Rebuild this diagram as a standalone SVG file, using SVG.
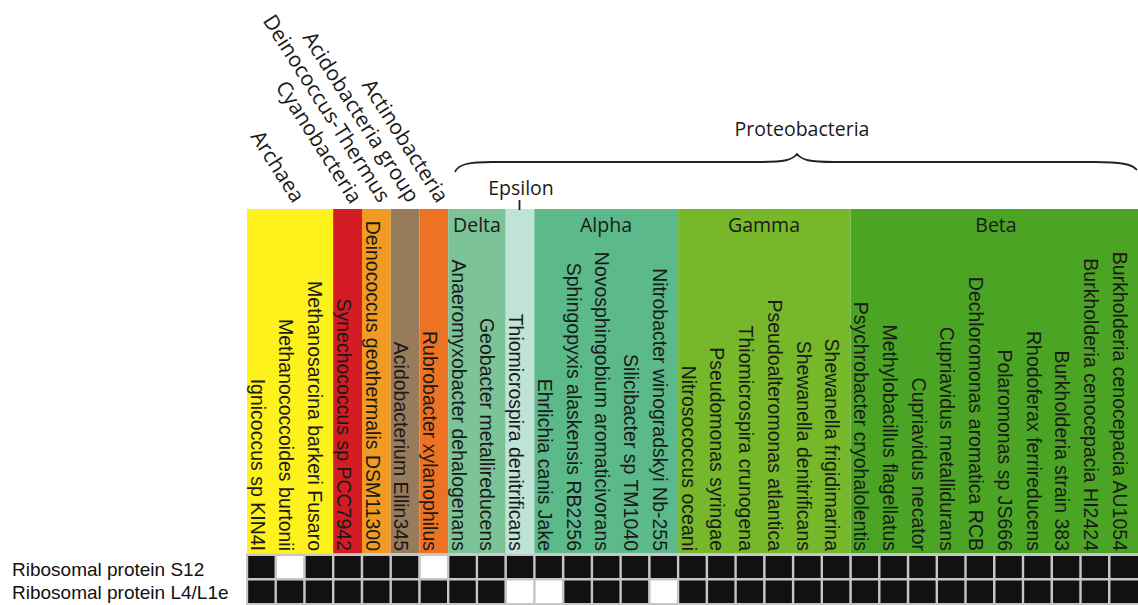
<svg xmlns="http://www.w3.org/2000/svg" width="1138" height="605" viewBox="0 0 1138 605">
<style>
.sp{font-family:"Liberation Sans",Arial,sans-serif;font-size:19.5px;fill:#1a1a1a;text-anchor:end}
.hd{font-family:"Open Sans","Noto Sans",sans-serif;font-size:19.5px;fill:#1a1a1a;text-anchor:middle}
.dg{font-family:"Open Sans","Noto Sans",sans-serif;font-size:21px;fill:#1a1a1a;text-anchor:end}
.rl{font-family:"Liberation Sans",Arial,sans-serif;font-size:19px;fill:#111}
.b{fill:#111}
.w{fill:#fff}
</style>
<rect width="1138" height="605" fill="#fff"/>
<g id="bands">
<rect id="archaea" x="247" y="209" width="86.2" height="344.5" fill="#fff21c"/>
<rect id="cyanobacteria" x="333.2" y="209" width="28.8" height="344.5" fill="#d41c24"/>
<rect id="deinococcus" x="362" y="209" width="28.7" height="344.5" fill="#f39a22"/>
<rect id="acidobacteria" x="390.7" y="209" width="28.8" height="344.5" fill="#987b5b"/>
<rect id="actinobacteria" x="419.5" y="209" width="28.7" height="344.5" fill="#ee7224"/>
<rect id="delta" x="448.2" y="209" width="57.5" height="344.5" fill="#7cc497"/>
<rect id="epsilon" x="505.7" y="209" width="28.7" height="344.5" fill="#bfe3d6"/>
<rect id="alpha" x="534.4" y="209" width="143.7" height="344.5" fill="#5cb98a"/>
<rect id="gamma" x="678.1" y="209" width="172.5" height="344.5" fill="#76b829"/>
<rect id="beta" x="850.6" y="209" width="287.4" height="344.5" fill="#4ca424"/>
</g>
<g id="group-labels">
<text class="dg" transform="translate(293,204) rotate(57.5)">Archaea</text>
<text class="dg" transform="translate(350.5,205) rotate(57.5)">Cyanobacteria</text>
<text class="dg" transform="translate(379,204) rotate(57.5)">Deinococcus-Thermus</text>
<text class="dg" transform="translate(408,204) rotate(57.5)">Acidobacteria group</text>
<text class="dg" transform="translate(437,204) rotate(57.5)">Actinobacteria</text>
<text class="hd" x="477" y="232">Delta</text>
<text class="hd" x="606" y="232">Alpha</text>
<text class="hd" x="764" y="232">Gamma</text>
<text class="hd" x="996" y="232">Beta</text>
<text class="hd" x="521" y="195" font-size="20.5">Epsilon</text>
<text class="hd" x="802" y="136" font-size="21.5">Proteobacteria</text>
</g>
<g id="connectors" fill="none" stroke="#222" stroke-width="1.8">
<path d="M455,172 C458,164 470,162 492,162 L760,162 C785,162 792,160 797,154 C802,160 809,162 834,162 L1095,162 C1120,162 1132,164 1137,170"/>
<line x1="519.5" y1="200" x2="519.5" y2="210"/>
</g>
<g id="species">
<text class="sp" transform="translate(250.5,551) rotate(90)">Ignicoccus sp KIN4I</text>
<text class="sp" transform="translate(279.2,551) rotate(90)">Methanococcoides burtonii</text>
<text class="sp" transform="translate(308,551) rotate(90)">Methanosarcina barkeri Fusaro</text>
<text class="sp" transform="translate(336.7,551) rotate(90)">Synechococcus sp PCC7942</text>
<text class="sp" transform="translate(365.5,551) rotate(90)">Deinococcus geothermalis DSM11300</text>
<text class="sp" transform="translate(394.2,551) rotate(90)">Acidobacterium Ellin345</text>
<text class="sp" transform="translate(423,551) rotate(90)">Rubrobacter xylanophilus</text>
<text class="sp" transform="translate(451.7,551) rotate(90)">Anaeromyxobacter dehalogenans</text>
<text class="sp" transform="translate(480.4,551) rotate(90)">Geobacter metallireducens</text>
<text class="sp" transform="translate(509.2,551) rotate(90)">Thiomicrospira denitrificans</text>
<text class="sp" transform="translate(537.9,551) rotate(90)">Ehrlichia canis Jake</text>
<text class="sp" transform="translate(566.7,551) rotate(90)">Sphingopyxis alaskensis RB2256</text>
<text class="sp" transform="translate(595.4,551) rotate(90)">Novosphingobium aromaticivorans</text>
<text class="sp" transform="translate(624.1,551) rotate(90)">Silicibacter sp TM1040</text>
<text class="sp" transform="translate(652.9,551) rotate(90)">Nitrobacter winogradskyi Nb-255</text>
<text class="sp" transform="translate(681.6,551) rotate(90)">Nitrosococcus oceani</text>
<text class="sp" transform="translate(710.4,551) rotate(90)">Pseudomonas syringae</text>
<text class="sp" transform="translate(739.1,551) rotate(90)">Thiomicrospira crunogena</text>
<text class="sp" transform="translate(767.9,551) rotate(90)">Pseudoalteromonas atlantica</text>
<text class="sp" transform="translate(796.6,551) rotate(90)">Shewanella denitrificans</text>
<text class="sp" transform="translate(825.3,551) rotate(90)">Shewanella frigidimarina</text>
<text class="sp" transform="translate(854.1,551) rotate(90)">Psychrobacter cryohalolentis</text>
<text class="sp" transform="translate(882.8,551) rotate(90)">Methylobacillus flagellatus</text>
<text class="sp" transform="translate(911.6,551) rotate(90)">Cupriavidus necator</text>
<text class="sp" transform="translate(940.3,551) rotate(90)">Cupriavidus metallidurans</text>
<text class="sp" transform="translate(969,551) rotate(90)">Dechloromonas aromatica RCB</text>
<text class="sp" transform="translate(997.8,551) rotate(90)">Polaromonas sp JS666</text>
<text class="sp" transform="translate(1026.5,551) rotate(90)">Rhodoferax ferrireducens</text>
<text class="sp" transform="translate(1055.3,551) rotate(90)">Burkholderia strain 383</text>
<text class="sp" transform="translate(1084,551) rotate(90)">Burkholderia cenocepacia HI2424</text>
<text class="sp" transform="translate(1112.8,551) rotate(90)">Burkholderia cenocepacia AU1054</text>
</g>
<g id="row-labels">
<text class="rl" x="12" y="576">Ribosomal protein S12</text>
<text class="rl" x="12" y="599">Ribosomal protein L4/L1e</text>
</g>
<g id="grid">
<rect x="246" y="553.5" width="892" height="51.5" fill="#c6c6c6"/>
<g id="row-s12">
<rect class="b" x="248.2" y="556" width="26.3" height="22"/>
<rect class="w" x="276.9" y="556" width="26.3" height="22"/>
<rect class="b" x="305.7" y="556" width="26.3" height="22"/>
<rect class="b" x="334.4" y="556" width="26.3" height="22"/>
<rect class="b" x="363.2" y="556" width="26.3" height="22"/>
<rect class="b" x="391.9" y="556" width="26.3" height="22"/>
<rect class="w" x="420.7" y="556" width="26.3" height="22"/>
<rect class="b" x="449.4" y="556" width="26.3" height="22"/>
<rect class="b" x="478.1" y="556" width="26.3" height="22"/>
<rect class="b" x="506.9" y="556" width="26.3" height="22"/>
<rect class="b" x="535.6" y="556" width="26.3" height="22"/>
<rect class="b" x="564.4" y="556" width="26.3" height="22"/>
<rect class="b" x="593.1" y="556" width="26.3" height="22"/>
<rect class="b" x="621.8" y="556" width="26.3" height="22"/>
<rect class="b" x="650.6" y="556" width="26.3" height="22"/>
<rect class="b" x="679.3" y="556" width="26.3" height="22"/>
<rect class="b" x="708.1" y="556" width="26.3" height="22"/>
<rect class="b" x="736.8" y="556" width="26.3" height="22"/>
<rect class="b" x="765.6" y="556" width="26.3" height="22"/>
<rect class="b" x="794.3" y="556" width="26.3" height="22"/>
<rect class="b" x="823" y="556" width="26.3" height="22"/>
<rect class="b" x="851.8" y="556" width="26.3" height="22"/>
<rect class="b" x="880.5" y="556" width="26.3" height="22"/>
<rect class="b" x="909.3" y="556" width="26.3" height="22"/>
<rect class="b" x="938" y="556" width="26.3" height="22"/>
<rect class="b" x="966.7" y="556" width="26.3" height="22"/>
<rect class="b" x="995.5" y="556" width="26.3" height="22"/>
<rect class="b" x="1024.2" y="556" width="26.3" height="22"/>
<rect class="b" x="1053" y="556" width="26.3" height="22"/>
<rect class="b" x="1081.7" y="556" width="26.3" height="22"/>
<rect class="b" x="1110.5" y="556" width="27.5" height="22"/>
</g>
<g id="row-l4">
<rect class="b" x="248.2" y="580.5" width="26.3" height="22.5"/>
<rect class="b" x="276.9" y="580.5" width="26.3" height="22.5"/>
<rect class="b" x="305.7" y="580.5" width="26.3" height="22.5"/>
<rect class="b" x="334.4" y="580.5" width="26.3" height="22.5"/>
<rect class="b" x="363.2" y="580.5" width="26.3" height="22.5"/>
<rect class="b" x="391.9" y="580.5" width="26.3" height="22.5"/>
<rect class="b" x="420.7" y="580.5" width="26.3" height="22.5"/>
<rect class="b" x="449.4" y="580.5" width="26.3" height="22.5"/>
<rect class="b" x="478.1" y="580.5" width="26.3" height="22.5"/>
<rect class="w" x="506.9" y="580.5" width="26.3" height="22.5"/>
<rect class="w" x="535.6" y="580.5" width="26.3" height="22.5"/>
<rect class="b" x="564.4" y="580.5" width="26.3" height="22.5"/>
<rect class="b" x="593.1" y="580.5" width="26.3" height="22.5"/>
<rect class="b" x="621.8" y="580.5" width="26.3" height="22.5"/>
<rect class="w" x="650.6" y="580.5" width="26.3" height="22.5"/>
<rect class="b" x="679.3" y="580.5" width="26.3" height="22.5"/>
<rect class="b" x="708.1" y="580.5" width="26.3" height="22.5"/>
<rect class="b" x="736.8" y="580.5" width="26.3" height="22.5"/>
<rect class="b" x="765.6" y="580.5" width="26.3" height="22.5"/>
<rect class="b" x="794.3" y="580.5" width="26.3" height="22.5"/>
<rect class="b" x="823" y="580.5" width="26.3" height="22.5"/>
<rect class="b" x="851.8" y="580.5" width="26.3" height="22.5"/>
<rect class="b" x="880.5" y="580.5" width="26.3" height="22.5"/>
<rect class="b" x="909.3" y="580.5" width="26.3" height="22.5"/>
<rect class="b" x="938" y="580.5" width="26.3" height="22.5"/>
<rect class="b" x="966.7" y="580.5" width="26.3" height="22.5"/>
<rect class="b" x="995.5" y="580.5" width="26.3" height="22.5"/>
<rect class="b" x="1024.2" y="580.5" width="26.3" height="22.5"/>
<rect class="b" x="1053" y="580.5" width="26.3" height="22.5"/>
<rect class="b" x="1081.7" y="580.5" width="26.3" height="22.5"/>
<rect class="b" x="1110.5" y="580.5" width="27.5" height="22.5"/>
</g>
</g>
</svg>
